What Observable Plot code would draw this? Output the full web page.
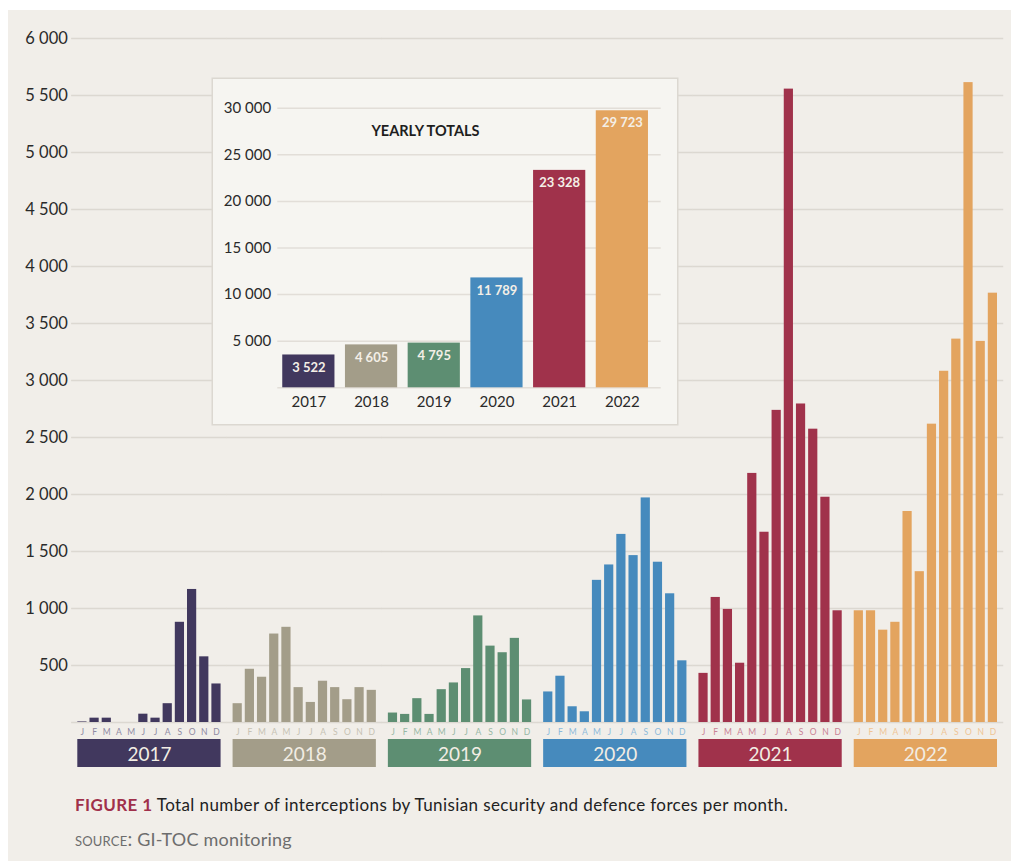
<!DOCTYPE html>
<html>
<head>
<meta charset="utf-8">
<script src="https://cdn.jsdelivr.net/npm/d3@7"></script>
<script src="https://cdn.jsdelivr.net/npm/@observablehq/plot@0.6"></script>
<style>
  body { margin: 0; background: #ffffff; font-family: Lato, "Open Sans", sans-serif; }
  #wrap { position: absolute; left: 8px; top: 10px; width: 1003px; height: 851px; background: #f1eee9; overflow: hidden; }
  #main { position: absolute; left: 0; top: 0; }
  #boxes { position: absolute; left: 0; top: 729px; }
  #inset { position: absolute; left: 205px; top: 69px; width: 464px; height: 345px; background: #f6f5f1; box-shadow: 0 0 0 1.5px #dcd8d1; }
  #caption { position: absolute; left: 67px; top: 784px; font-size: 17px; letter-spacing: 0.4px; line-height: 21px; color: #222; white-space: nowrap; }
  #caption b { color: #a0304b; }
  #source { position: absolute; left: 67px; top: 818px; font-size: 18px; letter-spacing: 0.2px; line-height: 22px; color: #6d6d6d; white-space: nowrap; }
  #source span { font-variant: small-caps; font-size: 19px; letter-spacing: 0.2px; }
</style>
</head>
<body>
<div id="wrap">
  <div id="main"></div>
  <div id="boxes"></div>
  <div id="inset"></div>
  <div id="caption"><b>FIGURE 1</b> Total number of interceptions by Tunisian security and defence forces per month.</div>
  <div id="source"><span>source:</span> GI-TOC monitoring</div>
</div>
<script>
// ---------- data ----------
const years = ["2017", "2018", "2019", "2020", "2021", "2022"];
const monthLabels = ["J", "F", "M", "A", "M", "J", "J", "A", "S", "O", "N", "D"];
const v2017 = [5, 38, 38, 0, 0, 73, 38, 165, 879, 1167, 576, 338];
const v2018 = [165, 467, 397, 776, 835, 306, 176, 362, 306, 200, 306, 282];
const v2019 = [83, 71, 209, 71, 288, 347, 473, 935, 670, 612, 738, 198];
const v2020 = [268, 406, 138, 94, 1247, 1382, 1650, 1464, 1970, 1406, 1129, 541];
const v2021 = [431, 1097, 992, 520, 2185, 1669, 2738, 5556, 2794, 2573, 1976, 980];
const v2022 = [980, 980, 810, 879, 1851, 1323, 2617, 3081, 3363, 5613, 3343, 3766];
const yearlyTotals = [3522, 4605, 4795, 11789, 23328, 29723];
const mainTicks = [500, 1000, 1500, 2000, 2500, 3000, 3500, 4000, 4500, 5000, 5500, 6000];
const insetTicks = [5000, 10000, 15000, 20000, 25000, 30000];
const yearColors = ["#41385e", "#a39d89", "#5d8e72", "#468abd", "#a0324b", "#e3a45f"];
const monthTints = ["#8f8aa3", "#c6c2b3", "#97b8a5", "#8dbadb", "#c98295", "#efc595"];

// ---------- derived tables ----------
const monthly = [v2017, v2018, v2019, v2020, v2021, v2022];
const rows = years.flatMap((y, i) => monthly[i].map((v, m) => ({year: y, m, value: v, yi: i})));
const monthRows = years.flatMap((y, i) => monthLabels.map((l, m) => ({year: y, m, label: l, yi: i})));
const totals = years.map((y, i) => ({year: y, total: yearlyTotals[i], yi: i}));
const fmt = v => d3.format(",")(v).replace(/,/g, " ");

// ---------- main chart ----------
const W = 1003;
const mL = 69.3, mR = 14;
const fxPad = 0.0773;
const main = Plot.plot({
  width: W,
  height: 730,
  marginTop: 28,
  marginBottom: 18,
  marginLeft: mL,
  marginRight: mR,
  style: {fontFamily: "Lato", background: "transparent", overflow: "visible"},
  fx: {domain: years, paddingInner: fxPad, paddingOuter: 0, round: false, axis: null, label: null},
  x: {domain: d3.range(12), paddingInner: 0.245, paddingOuter: 0, round: false, axis: null, label: null},
  y: {domain: [0, 6000], ticks: mainTicks, tickSize: 0, tickPadding: 10, tickFormat: fmt, label: null, fontSize: 16.5},
  color: {type: "identity"},
  marks: [
    Plot.ruleY([0, ...mainTicks], {stroke: "#dcd8d1", strokeWidth: 1.5, insetLeft: -6.2, insetRight: -6.2}),
    Plot.barY(rows, {fx: "year", x: "m", y: "value", fill: d => yearColors[d.yi]}),
    Plot.text(monthRows, {fx: "year", x: "m", y: () => 0, text: "label", dy: 9.5, fill: d => monthTints[d.yi], fontSize: 8.5, lineAnchor: "middle"})
  ]
});
main.querySelectorAll("g[aria-label='y-axis tick label']").forEach(e => { e.setAttribute("fill", "#2a2a2a"); e.setAttribute("font-size", "16.5"); });
document.getElementById("main").appendChild(main);

// ---------- year boxes ----------
const boxes = Plot.plot({
  width: W,
  height: 28,
  marginTop: 0,
  marginBottom: 0,
  marginLeft: mL,
  marginRight: mR,
  style: {fontFamily: "Lato", background: "transparent", overflow: "visible"},
  x: {domain: years, paddingInner: fxPad, paddingOuter: 0, round: false, axis: null},
  color: {type: "identity"},
  marks: [
    Plot.cell(years, {x: d => d, fill: (d, i) => yearColors[i]}),
    Plot.text(years, {x: d => d, text: d => d, fill: "#f2ede4", fontSize: 19, frameAnchor: "middle", lineAnchor: "middle", dy: 1})
  ]
});
document.getElementById("boxes").appendChild(boxes);

// ---------- inset: yearly totals ----------
const inset = Plot.plot({
  width: 464,
  height: 345,
  marginTop: 28.7,
  marginBottom: 36.7,
  marginLeft: 64.3,
  marginRight: 16.3,
  style: {fontFamily: "Lato", background: "transparent", overflow: "visible"},
  x: {domain: years, paddingInner: 0.1675, paddingOuter: 0.141, align: 0.28, round: false, tickSize: 0, tickPadding: 9, label: null, fontSize: 15},
  y: {domain: [0, 30000], ticks: insetTicks, tickSize: 0, tickPadding: 6.6, tickFormat: fmt, label: null},
  color: {type: "identity"},
  marks: [
    Plot.ruleY([0, ...insetTicks], {stroke: "#e2ded8", strokeWidth: 1.5}),
    Plot.barY(totals, {x: "year", y: "total", fill: d => yearColors[d.yi]}),
    Plot.text(totals, {x: "year", y: "total", text: d => fmt(d.total), dy: 12.5, fill: "#f4efe7", fontSize: 13, fontWeight: "bold", lineAnchor: "middle"}),
    Plot.text(["YEARLY TOTALS"], {frameAnchor: "top-left", dx: 147.7, dy: 23.5, textAnchor: "middle", lineAnchor: "middle", fontSize: 14.5, fontWeight: "bold", fill: "#1e1e1e"})
  ]
});
inset.querySelectorAll("g[aria-label='y-axis tick label'], g[aria-label='x-axis tick label']").forEach(e => { e.setAttribute("fill", "#2a2a2a"); e.setAttribute("font-size", "15"); });
document.getElementById("inset").appendChild(inset);
</script>
</body>
</html>
